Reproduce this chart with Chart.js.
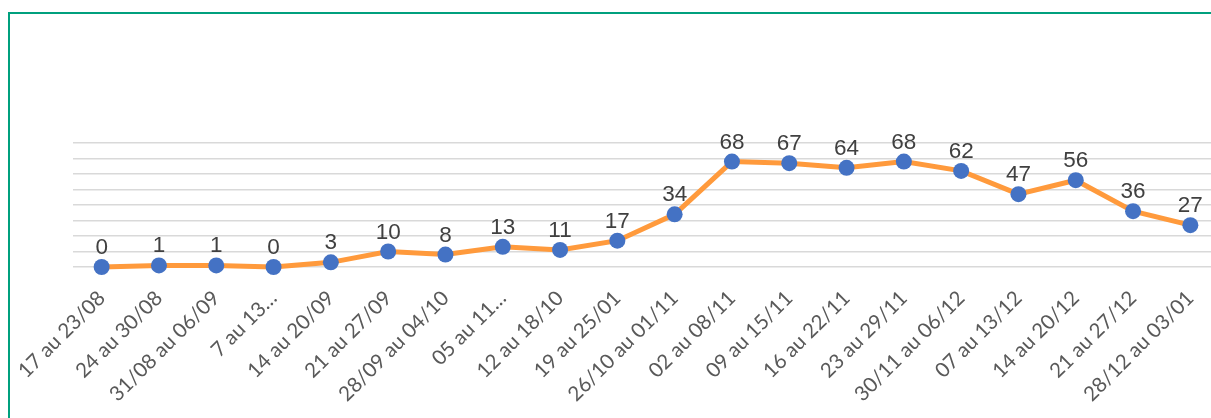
<!DOCTYPE html>
<html><head><meta charset="utf-8">
<script src="https://cdn.jsdelivr.net/npm/chart.js@4/dist/chart.umd.min.js"></script>
<style>
html,body{margin:0;padding:0;background:#fff;overflow:hidden;width:1211px;height:418px;}
#wrap{position:absolute;left:0;top:0;width:1240px;height:418px;}
#frame{position:absolute;left:8px;top:12px;width:1400px;height:600px;border:2px solid #00A07E;pointer-events:none;box-sizing:border-box;}
</style></head>
<body>
<div id="wrap"><canvas id="c" width="1240" height="418"></canvas></div>
<div id="frame"></div>
<script>
const categories = ["17 au 23/08","24 au 30/08","31/08 au 06/09","7 au 13…","14 au 20/09","21 au 27/09","28/09 au 04/10","05 au 11…","12 au 18/10","19 au 25/01","26/10 au 01/11","02 au 08/11","09 au 15/11","16 au 22/11","23 au 29/11","30/11 au 06/12","07 au 13/12","14 au 20/12","21 au 27/12","28/12 au 03/01"];
const values = [0,1,1,0,3,10,8,13,11,17,34,68,67,64,68,62,47,56,36,27];
const yTicks = [0,10,20,30,40,50,60,70,80];

const labelPlugin = {
  id:'valLabels',
  afterDatasetsDraw(chart){
    const ctx = chart.ctx;
    const meta = chart.getDatasetMeta(0);
    ctx.save();
    ctx.font = '22.5px "Liberation Sans", Arial, sans-serif';
    ctx.fillStyle = '#404040';
    ctx.textAlign = 'center';
    ctx.textBaseline = 'alphabetic';
    meta.data.forEach((pt,i)=>{
      ctx.fillText(String(values[i]), pt.x, pt.y - 13);
    });
    ctx.restore();
  }
};

new Chart(document.getElementById('c'), {
  type:'line',
  data:{labels:categories, datasets:[{
    data:values,
    borderColor:'#FF9A3C',
    borderWidth:5,
    backgroundColor:'#4472C4',
    pointBackgroundColor:'#4472C4',
    pointBorderColor:'#4472C4',
    pointRadius:8,
    pointBorderWidth:0,
    tension:0,
    clip:false
  }]},
  options:{
    responsive:false,
    animation:false,
    events:[],
    layout:{padding:{left:73,right:21,top:143,bottom:0}},
    plugins:{legend:{display:false},tooltip:{enabled:false}},
    scales:{
      x:{
        offset:true,
        grid:{display:false},
        border:{display:false},
        ticks:{autoSkip:false,maxRotation:45,minRotation:45,color:'#595959',padding:11,
          font:{family:'Lato, "Liberation Sans", sans-serif',size:20.5}},
        afterFit(scale){ scale.height = 151; }
      },
      y:{
        display:true,
        min:0,max:80,
        afterBuildTicks(scale){ scale.ticks = yTicks.map(v=>({value:v})); },
        ticks:{display:false},
        grid:{color:'#D9D9D9',lineWidth:1.6,drawTicks:false},
        border:{display:false},
        afterFit(scale){ scale.width = 0; }
      }
    }
  },
  plugins:[labelPlugin]
});
</script>
</body></html>
